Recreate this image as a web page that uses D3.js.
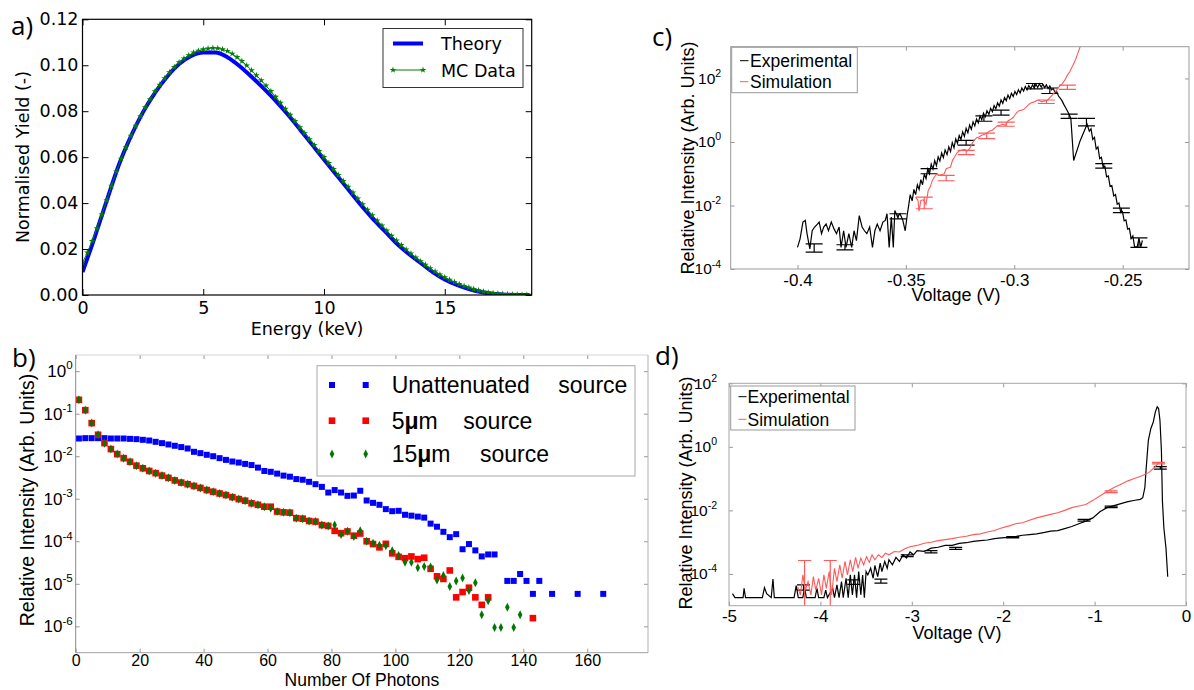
<!DOCTYPE html>
<html><head><meta charset="utf-8">
<script src="https://cdn.jsdelivr.net/npm/d3@7"></script>
<style>
body{margin:0;background:#fff;}
svg{display:block;}
</style></head><body>
<svg id="fig" width="1194" height="690"></svg>
<script>
// ================= DATA =================
// Panel a: normalised yield vs energy (keV)
const aTheoryEnergy = [0,0.5,1,1.5,2,2.5,3,3.5,4,4.5,5,5.5,6,6.5,7,7.5,8,8.5,9,9.5,10,10.5,11,11.5,12,12.5,13,13.5,14,14.5,15,15.5,16,16.5,17,17.5,18,18.5];
const aTheoryYield = [0.0100,0.0250,0.0410,0.0565,0.0690,0.0795,0.0880,0.0950,0.1005,0.1040,0.1055,0.1055,0.1035,0.0997,0.0950,0.0899,0.0845,0.0786,0.0722,0.0656,0.0590,0.0525,0.0460,0.0395,0.0335,0.0280,0.0225,0.0180,0.0140,0.0100,0.0068,0.0044,0.0026,0.0013,0.0005,0.0001,0.0000,0.0000];
const aMcEnergy = [0,0.2,0.4,0.6,0.8,1,1.2,1.4,1.6,1.8,2,2.2,2.4,2.6,2.8,3,3.2,3.4,3.6,3.8,4,4.2,4.4,4.6,4.8,5,5.2,5.4,5.6,5.8,6,6.2,6.4,6.6,6.8,7,7.2,7.4,7.6,7.8,8,8.2,8.4,8.6,8.8,9,9.2,9.4,9.6,9.8,10,10.2,10.4,10.6,10.8,11,11.2,11.4,11.6,11.8,12,12.2,12.4,12.6,12.8,13,13.2,13.4,13.6,13.8,14,14.2,14.4,14.6,14.8,15,15.2,15.4,15.6,15.8,16,16.2,16.4,16.6,16.8,17,17.2,17.4,17.6,17.8,18,18.2,18.4,18.6];
const aMcYield = [0.0140,0.0185,0.0235,0.0290,0.0350,0.0412,0.0475,0.0537,0.0593,0.0643,
0.0693,0.0736,0.0778,0.0817,0.0852,0.0886,0.0915,0.0943,0.0969,0.0992,
0.1013,0.1029,0.1043,0.1055,0.1063,0.1069,0.1073,0.1075,0.1074,0.1069,
0.1062,0.1050,0.1035,0.1018,0.0999,0.0978,0.0956,0.0934,0.0911,0.0887,
0.0862,0.0836,0.0810,0.0784,0.0757,0.0730,0.0704,0.0678,0.0652,0.0626,
0.0600,0.0574,0.0548,0.0522,0.0496,0.0471,0.0446,0.0420,0.0395,0.0371,
0.0347,0.0324,0.0302,0.0280,0.0258,0.0237,0.0217,0.0198,0.0180,0.0163,
0.0147,0.0131,0.0116,0.0102,0.0089,0.0077,0.0066,0.0056,0.0047,0.0039,
0.0032,0.0026,0.0020,0.0015,0.0011,0.0008,0.0006,0.0004,0.0003,0.0002,
0.0002,0.0001,0.0001,0.0001];
const aXTicks = [0,5,10,15];
const aYTicks = [0,0.02,0.04,0.06,0.08,0.10,0.12];
const aLegend = ["Theory","MC Data"];

// Panel b: relative intensity vs number of photons
const bUnattX = [1,3,5,7,9,11,13,15,17,19,21,23,25,27,29,31,33,35,37,39,41,43,45,47,49,51,53,55,57,59,61,63,65,67,69,71,73,75,77,79,81,83,85,87,89,91,93,95,97,99,101,103,105,107,109,111,113,115,117,119,121,123,125,127,129,131,135,137,139,141,143,145,149,157,165];
const bUnattY = [0.0261,0.0266,0.0266,0.0266,0.0266,0.0261,0.0261,0.0261,0.0256,0.0252,0.0243,0.0234,0.0218,0.0203,0.0189,0.0176,0.0164,0.0152,0.0127,0.0118,0.0108,0.0100,0.0090,0.0082,0.0075,0.0071,0.0066,0.0062,0.0054,0.0045,0.0043,0.0039,0.0035,0.0033,0.0029,0.0028,0.0025,0.0022,0.0019,0.0014,0.0016,0.0014,0.00117,0.00119,0.00154,0.00091,0.00080,0.00072,0.00057,0.00051,0.00052,0.00042,0.00040,0.00038,0.00036,0.00026,0.00022,0.000167,0.000125,0.000147,6.5e-5,8.6e-5,6.1e-5,4.4e-5,4.9e-5,4.9e-5,1.17e-5,1.17e-5,1.7e-5,1.17e-5,5.8e-6,1.17e-5,5.8e-6,5.8e-6,5.8e-6];
const b5umX = [1,3,5,7,9,11,13,15,17,19,21,23,25,27,29,31,33,35,37,39,41,43,45,47,49,51,53,55,57,59,61,63,65,67,69,71,73,75,77,79,81,83,85,87,89,91,93,95,97,99,101,103,105,107,109,111,113,115,117,119,121,123,125,127,129,143];
const b5umY = [0.212,0.121,0.060,0.0319,0.0203,0.0147,0.0112,0.0090,0.0074,0.0060,0.0052,0.0045,0.0040,0.0035,0.0031,0.0027,0.0024,0.0022,0.0020,0.0018,0.0016,0.00146,0.00133,0.00122,0.00109,0.00098,0.00090,0.00078,0.00072,0.00065,0.00065,0.00050,0.00048,0.00047,0.00035,0.00034,0.00030,0.00029,0.00024,0.00023,1.76e-4,1.55e-4,1.7e-4,1.35e-4,1.52e-4,1.0e-4,8.6e-5,7.2e-5,8.7e-5,5.2e-5,4.3e-5,4.0e-5,4.4e-5,3.8e-5,4.1e-5,2.25e-5,1.5e-5,1.3e-5,2.06e-5,4.8e-6,6.4e-6,8.1e-6,4.8e-6,3.2e-6,4.8e-6,1.56e-6];
const b15umX = [1,3,5,7,9,11,13,15,17,19,21,23,25,27,29,31,33,35,37,39,41,43,45,47,49,51,53,55,57,59,61,63,65,67,69,71,73,75,77,79,81,83,85,87,89,91,93,95,97,99,101,103,105,107,109,111,113,115,117,119,121,123,125,127,129,131,133,135,137,139];
const b15umY = [0.212,0.121,0.060,0.0319,0.0203,0.0147,0.0112,0.0090,0.0074,0.0060,0.0052,0.0045,0.0040,0.0035,0.0031,0.0027,0.0024,0.0022,0.0020,0.0018,0.0016,0.00146,0.00133,0.00122,0.00109,0.00098,0.00090,0.00078,0.00072,0.00065,0.00060,0.00050,0.00048,0.00047,0.00035,0.00034,0.00030,0.00029,0.00024,0.00023,2.4e-4,1.45e-4,1.72e-4,1.3e-4,1.76e-4,1.0e-4,9.0e-5,8.1e-5,7.8e-5,6.0e-5,4.6e-5,3.2e-5,3.2e-5,2.4e-5,2.56e-5,2.47e-5,1.23e-5,1.56e-5,8.7e-6,1.17e-5,1.37e-5,7.0e-6,1.06e-5,1.87e-6,4.0e-6,9.4e-7,9.4e-7,2.8e-6,9.4e-7,1.87e-6];
const bXTicks = [0,20,40,60,80,100,120,140,160];
const bYTicks = [1,1e-1,1e-2,1e-3,1e-4,1e-5,1e-6];

// Panel c: [voltage (V), relative intensity]
const cExp = [[-0.4000,4.8e-4],[-0.3988,8.9e-4],[-0.3975,3.0e-3],[-0.3964,3.4e-3],[-0.3956,1.3e-3],[-0.3943,4.3e-4],[-0.3932,1.6e-3],[-0.3921,2.1e-3],[-0.3908,2.6e-3],[-0.3900,3.0e-3],[-0.3889,1.3e-3],[-0.3879,2.1e-3],[-0.3868,2.6e-3],[-0.3857,1.6e-3],[-0.3844,3.0e-3],[-0.3831,1.8e-3],[-0.3820,1.3e-3],[-0.3808,2.1e-3],[-0.3799,4.8e-4],[-0.3787,1.6e-3],[-0.3776,4.8e-4],[-0.3763,1.3e-3],[-0.3750,4.8e-4],[-0.3739,1.6e-3],[-0.3728,7.8e-4],[-0.3715,4.8e-3],[-0.3702,2.1e-3],[-0.3691,1.6e-3],[-0.3680,1.3e-3],[-0.3667,2.1e-3],[-0.3654,4.8e-4],[-0.3643,1.6e-3],[-0.3632,2.6e-3],[-0.3619,1.6e-3],[-0.3606,3.0e-3],[-0.3595,3.4e-3],[-0.3587,5.5e-3],[-0.3577,4.8e-4],[-0.3567,4.3e-3],[-0.3558,4.8e-4],[-0.3551,7.0e-3],[-0.3538,4.3e-3],[-0.3527,5.5e-3],[-0.3514,3.4e-3],[-0.3503,1.6e-3],[-0.3493,5.5e-3],
[-0.3488,0.009],[-0.3480,0.022],[-0.3471,0.014],[-0.3463,0.032],[-0.3455,0.022],[-0.3447,0.045],[-0.3439,0.032],[-0.3431,0.065],[-0.3423,0.045],[-0.3415,0.10],[-0.3407,0.07],[-0.3399,0.14],[-0.3391,0.10],[-0.3383,0.2],[-0.3375,0.14],[-0.3367,0.26],[-0.3359,0.18],[-0.3351,0.34],[-0.3343,0.25],[-0.3335,0.45],[-0.3327,0.32],[-0.3319,0.56],[-0.3310,0.40],[-0.3302,0.7],[-0.3294,0.5],[-0.3286,0.95],[-0.3278,0.65],[-0.3270,1.25],[-0.3262,0.9],[-0.3254,1.6],[-0.3246,1.2],[-0.3238,2.1],[-0.3230,1.5],[-0.3222,2.7],[-0.3214,1.95],[-0.3206,3.4],[-0.3198,2.5],[-0.3190,4.3],[-0.3182,3.2],[-0.3174,5.3],[-0.3166,4.0],[-0.3158,6.6],[-0.3150,5.0],[-0.3142,8.0],[-0.3134,6.2],[-0.3126,9.6],[-0.3117,7.4],[-0.3109,11.5],[-0.3101,9.0],[-0.3093,14],[-0.3085,11],[-0.3077,17],[-0.3069,13.5],[-0.3061,21],[-0.3053,16.5],[-0.3045,25],[-0.3037,20],[-0.3029,30],[-0.3021,23],[-0.3013,34],[-0.3005,27],[-0.2997,39],[-0.2989,31],[-0.2981,44],[-0.2973,35],[-0.2965,50],[-0.2957,40],[-0.2949,56],[-0.2941,44],[-0.2933,60],[-0.2924,47],[-0.2916,63],[-0.2908,50],[-0.2900,66],[-0.2892,52],[-0.2884,68],[-0.2876,54],[-0.2868,66],[-0.2860,52],[-0.2852,63],[-0.2844,48],[-0.2836,58],[-0.2828,44],[-0.2820,48],[-0.2812,36],[-0.2804,38],[-0.2796,28],[-0.2788,24],[-0.2780,20],[-0.2771,15],[-0.2763,12],[-0.2747,7.5],[-0.2739,5.5],[-0.2726,0.26],[-0.2696,1.1],[-0.2664,3.6],[-0.2654,2.2],[-0.2646,2.6],[-0.2638,1.2],[-0.2630,1.4],[-0.2622,0.6],[-0.2614,0.7],[-0.2606,0.3],[-0.2598,0.33],[-0.2590,0.16],[-0.2582,0.17],[-0.2574,0.08],[-0.2566,0.085],[-0.2558,0.04],[-0.2550,0.042],[-0.2541,0.02],[-0.2533,0.022],[-0.2525,0.011],[-0.2517,0.012],[-0.2509,0.006],[-0.2501,0.0065],[-0.2493,0.0033],[-0.2485,0.0035],[-0.2477,0.0018],[-0.2469,0.0019],[-0.2461,0.0009],[-0.2453,0.0011],[-0.2445,0.0005],[-0.2433,0.0005],[-0.2425,0.0009],[-0.2416,0.0005],[-0.2409,0.0008]];
const cSim = [[-0.3455,0.0183],[-0.3444,0.0144],[-0.3439,0.0066],[-0.3431,0.0144],[-0.3420,0.0151],[-0.3407,0.0108],[-0.3397,0.0298],[-0.3388,0.038],[-0.3378,0.0616],[-0.3367,0.082],[-0.3356,0.10],[-0.3346,0.0886],[-0.3335,0.095],[-0.3323,0.10],[-0.3314,0.144],[-0.3302,0.155],[-0.3294,0.162],[-0.3285,0.264],[-0.3275,0.336],[-0.3265,0.45],[-0.3254,0.52],[-0.3243,0.546],[-0.3230,0.587],[-0.3217,0.52],[-0.3206,0.616],[-0.3195,0.886],[-0.3185,1.13],[-0.3174,1.37],[-0.3163,1.44],[-0.3150,1.62],[-0.3137,1.75],[-0.3126,1.92],[-0.3114,2.22],[-0.3101,2.34],[-0.3088,2.84],[-0.3077,3.28],[-0.3066,3.36],[-0.3053,3.61],[-0.3040,3.36],[-0.3029,4.6],[-0.3018,5.07],[-0.3005,5.87],[-0.2992,7.85],[-0.2981,9.5],[-0.2969,10],[-0.2957,10.5],[-0.2944,12.7],[-0.2932,15.5],[-0.2921,17.1],[-0.2908,18.3],[-0.2895,20.7],[-0.2884,20.7],[-0.2873,18.3],[-0.2860,19.7],[-0.2847,20.7],[-0.2836,25.1],[-0.2825,29.8],[-0.2812,37.9],[-0.2802,45],[-0.2791,57.3],[-0.2780,66.2],[-0.2767,88.5],[-0.2755,127],[-0.2744,162],[-0.2731,245],[-0.2718,380],[-0.2707,615],[-0.2696,1000],[-0.2686,1440]];
// error bars: [voltage, low, high]
const cExpErr = [[-0.3923,3.4e-4,6.2e-4],[-0.3781,4.0e-4,5.8e-4],[-0.3536,3.8e-3,5.5e-3],[-0.3393,0.10,0.144],[-0.3222,0.8,1.13],[-0.3140,4.5,6.6],[-0.3061,7.0,10],[-0.2907,47,69.5],[-0.2836,33.6,50],[-0.2747,5.5,7.5],[-0.2667,3.2,5.5],[-0.2587,0.15,0.207],[-0.2506,6e-3,8.2e-3],[-0.2425,4.8e-4,9.5e-4]];
const cSimErr = [[-0.3415,7.9e-3,0.0183],[-0.3314,0.06,0.0886],[-0.3222,0.40,0.546],[-0.3127,1.27,1.9],[-0.3037,3.13,4.2],[-0.2852,16.3,21],[-0.2755,45,61.5]];
const cXTicks = [-0.4,-0.35,-0.3,-0.25];
const cYTicks = [1e-4,1e-2,1,1e2];

// Panel d: [voltage (V), relative intensity]
const dExp = [[-4.962,2.4e-5],[-4.935,1.8e-5],[-4.846,1.8e-5],[-4.835,3.5e-5],[-4.819,1.8e-5],[-4.635,1.8e-5],[-4.612,3.7e-5],[-4.588,2.4e-5],[-4.538,1.8e-5],[-4.519,6.9e-5],[-4.504,1.8e-5],[-4.288,1.8e-5],[-4.265,4.3e-5],[-4.242,1.8e-5],[-4.192,1.8e-5],[-4.173,3.7e-5],[-4.154,1.8e-5],[-4.058,1.8e-5],[-4.038,3.5e-5],[-4.019,1.8e-5],[-3.962,1.8e-5],[-3.942,3.1e-5],[-3.923,1.8e-5],[-3.865,3.5e-5],[-3.846,1.8e-5],[-3.819,4.5e-5],[-3.796,1.8e-5],[-3.769,5.7e-5],[-3.750,1.8e-5],[-3.719,7.3e-5],[-3.696,1.8e-5],[-3.673,9.3e-5],[-3.650,2.2e-5],[-3.627,9.3e-5],[-3.604,1.8e-5],[-3.581,1.19e-4],[-3.558,2.2e-5],[-3.538,9.3e-5],[-3.519,1.8e-5],[-3.500,1.19e-4],[-3.481,9.3e-5],[-3.450,1.51e-4],[-3.423,7.3e-5],[-3.404,1.84e-4],[-3.373,8.2e-5],[-3.346,2.18e-4],[-3.327,1.19e-4],[-3.296,2.47e-4],[-3.269,1.51e-4],[-3.250,2.78e-4],[-3.212,1.93e-4],[-3.173,3.3e-4],[-3.135,2.47e-4],[-3.096,4.0e-4],[-3.058,3.14e-4],[-3.019,4.9e-4],[-2.981,4.0e-4],[-2.942,5.4e-4],[-2.865,5.1e-4],[-2.788,6.5e-4],[-2.712,6.9e-4],[-2.635,7.9e-4],[-2.558,7.9e-4],[-2.481,9.2e-4],[-2.404,9.6e-4],[-2.327,1.06e-3],[-2.250,1.12e-3],[-2.173,1.17e-3],[-2.096,1.29e-3],[-2.019,1.36e-3],[-1.942,1.42e-3],[-1.865,1.5e-3],[-1.788,1.65e-3],[-1.712,1.73e-3],[-1.635,1.82e-3],[-1.558,2.0e-3],[-1.481,2.21e-3],[-1.404,2.32e-3],[-1.327,2.68e-3],[-1.250,3.1e-3],[-1.173,3.8e-3],[-1.096,4.6e-3],[-1.019,5.8e-3],[-0.942,9.1e-3],[-0.865,0.0122],[-0.788,0.0141],[-0.712,0.0163],[-0.635,0.0188],[-0.558,0.0208],[-0.500,0.0223],[-0.473,0.0252],[-0.450,0.0525],[-0.435,0.226],[-0.412,1.59],[-0.385,3.72],[-0.358,6.07],[-0.335,12.6],[-0.315,18.2],[-0.300,16.1],[-0.285,6.86],[-0.269,0.766],[-0.258,0.0198],[-0.242,2.8e-3],[-0.219,6.5e-4],[-0.200,8.2e-5]];
const dSim = [[-4.250,4.0e-5],[-4.219,2.2e-5],[-4.192,9.3e-5],[-4.165,3.1e-5],[-4.135,5.7e-5],[-4.104,2.2e-5],[-4.077,8.2e-5],[-4.050,3.1e-5],[-4.019,7.3e-5],[-3.988,2.2e-5],[-3.962,9.3e-5],[-3.935,3.5e-5],[-3.904,1.19e-4],[-3.877,2.2e-5],[-3.846,1.51e-4],[-3.819,5.7e-5],[-3.788,1.93e-4],[-3.762,7.3e-5],[-3.731,2.47e-4],[-3.704,9.3e-5],[-3.673,2.78e-4],[-3.646,1.19e-4],[-3.615,3.3e-4],[-3.588,1.51e-4],[-3.558,3.14e-4],[-3.527,1.93e-4],[-3.496,3.5e-4],[-3.465,2.3e-4],[-3.435,4.0e-4],[-3.404,2.78e-4],[-3.365,4.0e-4],[-3.327,3.3e-4],[-3.288,4.5e-4],[-3.250,4.0e-4],[-3.192,5.1e-4],[-3.135,4.9e-4],[-3.077,6.2e-4],[-3.019,7.2e-4],[-2.942,7.9e-4],[-2.865,9.2e-4],[-2.788,9.9e-4],[-2.712,1.12e-3],[-2.635,1.2e-3],[-2.558,1.29e-3],[-2.481,1.42e-3],[-2.404,1.53e-3],[-2.327,1.73e-3],[-2.250,1.82e-3],[-2.173,2.1e-3],[-2.096,2.32e-3],[-2.019,2.8e-3],[-1.942,3.2e-3],[-1.865,3.8e-3],[-1.788,4.1e-3],[-1.712,4.9e-3],[-1.635,5.8e-3],[-1.558,6.6e-3],[-1.481,7.5e-3],[-1.404,8.4e-3],[-1.327,0.0100],[-1.250,0.0122],[-1.173,0.0137],[-1.096,0.0154],[-1.019,0.0207],[-0.942,0.0284],[-0.865,0.0393],[-0.788,0.0525],[-0.712,0.0668],[-0.635,0.0849],[-0.558,0.103],[-0.481,0.123],[-0.404,0.157],[-0.346,0.226],[-0.308,0.29]];
const dExpErr = [[-4.185,3.1e-5,4.5e-5],[-3.635,4.7e-5,6.5e-5],[-3.338,5.1e-5,6.9e-5],[-3.05,3.5e-4,4.0e-4],[-2.79,4.6e-4,5.4e-4],[-2.52,5.9e-4,6.9e-4],[-1.896,1.36e-3,1.5e-3],[-1.115,4.6e-3,5.2e-3],[-0.819,0.0122,0.0137],[-0.281,0.2,0.24]];
const dSimErr = [[-4.173,8e-6,2.65e-4],[-3.892,8e-6,2.65e-4],[-0.819,0.036,0.041],[-0.30,0.29,0.326]];
const dXTicks = [-5,-4,-3,-2,-1,0];
const dYTicks = [1e-4,1e-2,1,1e2];
const cdLegend = ["Experimental","Simulation"];

// ================= DRAWING =================
const svg = d3.select('#fig');
const SANS = '"Liberation Sans", Arial, sans-serif';
const DV = '"DejaVu Sans", sans-serif';
const defs = svg.append('defs');
function clip(id, box){
  defs.append('clipPath').attr('id', id).append('rect')
    .attr('x', box.l).attr('y', box.t).attr('width', box.r - box.l).attr('height', box.b - box.t);
  return 'url(#' + id + ')';
}
function cleanAxis(g, color, font, size){
  g.select('.domain').remove();
  g.attr('font-family', font).attr('font-size', size);
  g.selectAll('.tick line').attr('stroke', color);
  g.selectAll('.tick text').attr('fill', '#000');
}
function supLabels(g, size){
  g.selectAll('.tick text').each(function(d){
    const e = Math.round(Math.log10(d));
    const t = d3.select(this);
    t.text(null);
    t.append('tspan').text('10');
    t.append('tspan').attr('dy', -size * 0.45).attr('font-size', size * 0.68).text(String(e));
  });
}
function errBars(g, data, xs, ys, color, hw){
  g.selectAll(null).data(data).join('path')
    .attr('d', d => { const x = xs(d[0]), y1 = ys(d[1]), y2 = ys(d[2]);
      return `M${x},${y1}V${y2}M${x-hw},${y1}H${x+hw}M${x-hw},${y2}H${x+hw}`; })
    .attr('stroke', color).attr('stroke-width', 1.2).attr('fill', 'none');
}

// ---------- Panel a ----------
{
  const A = {l:82.5, r:531.7, t:19.3, b:295};
  const x = d3.scaleLinear().domain([0, 18.6]).range([A.l, A.r]);
  const y = d3.scaleLinear().domain([0, 0.12]).range([A.b, A.t]);
  const g = svg.append('g');
  const pg = g.append('g').attr('clip-path', clip('clipA', {l:A.l, r:A.r, t:A.t-3, b:A.b}));
  pg.append('path').datum(aTheoryEnergy.map((e,i)=>[e, aTheoryYield[i]]))
    .attr('d', d3.line().x(d=>x(d[0])).y(d=>y(d[1])).curve(d3.curveMonotoneX))
    .attr('fill','none').attr('stroke','#0000ff').attr('stroke-width',4);
  const mc = aMcEnergy.map((e,i)=>[e, aMcYield[i]]);
  pg.append('path').datum(mc)
    .attr('d', d3.line().x(d=>x(d[0])).y(d=>y(d[1])))
    .attr('fill','none').attr('stroke','#008000').attr('stroke-width',1);
  const star = d3.symbol(d3.symbolStar, 14)();
  pg.selectAll('.st').data(mc).join('path').attr('d', star)
    .attr('transform', d=>`translate(${x(d[0])},${y(d[1])})`).attr('fill','#008000');
  // axes
  const gx = g.append('g').attr('transform',`translate(0,${A.b})`)
    .call(d3.axisBottom(x).tickValues(aXTicks).tickSize(-6).tickPadding(7).tickFormat(d3.format('d')));
  cleanAxis(gx, '#000', DV, 17.5);
  const gxt = g.append('g').attr('transform',`translate(0,${A.t})`)
    .call(d3.axisTop(x).tickValues(aXTicks).tickSize(-6).tickFormat(''));
  cleanAxis(gxt, '#000', DV, 17.5);
  const gy = g.append('g').attr('transform',`translate(${A.l},0)`)
    .call(d3.axisLeft(y).tickValues(aYTicks).tickSize(-6).tickPadding(4).tickFormat(d3.format('.2f')));
  cleanAxis(gy, '#000', DV, 17.5);
  const gyr = g.append('g').attr('transform',`translate(${A.r},0)`)
    .call(d3.axisRight(y).tickValues(aYTicks).tickSize(-6).tickFormat(''));
  cleanAxis(gyr, '#000', DV, 17.5);
  g.append('rect').attr('x',A.l).attr('y',A.t).attr('width',A.r-A.l).attr('height',A.b-A.t)
    .attr('fill','none').attr('stroke','#000').attr('stroke-width',1.2);
  g.append('text').attr('x',(A.l+A.r)/2).attr('y',335).attr('text-anchor','middle')
    .attr('font-family',DV).attr('font-size',17.5).text('Energy (keV)');
  g.append('text').attr('transform',`translate(28.5,157) rotate(-90)`).attr('text-anchor','middle')
    .attr('font-family',DV).attr('font-size',17.5).text('Normalised Yield (-)');
  // legend
  const lg = g.append('g');
  lg.append('rect').attr('x',383).attr('y',28.5).attr('width',140).attr('height',59)
    .attr('fill','#fff').attr('stroke','#333').attr('stroke-width',1);
  lg.append('line').attr('x1',393).attr('x2',423).attr('y1',43.5).attr('y2',43.5).attr('stroke','#0000ff').attr('stroke-width',4);
  lg.append('line').attr('x1',393).attr('x2',423).attr('y1',70).attr('y2',70).attr('stroke','#008000').attr('stroke-width',1);
  [393,423].forEach(px => lg.append('path').attr('d', d3.symbol(d3.symbolStar, 14)()).attr('transform',`translate(${px},70)`).attr('fill','#008000'));
  lg.selectAll('text').data(aLegend).join('text').attr('x',441).attr('y',(d,i)=>i?76.5:49.5)
    .attr('font-family',DV).attr('font-size',17.5).text(d=>d);
  g.append('text').attr('x',11).attr('y',35).attr('font-family','"Open Sans", sans-serif').attr('font-size',26).text('a)');
}

// ---------- Panel b ----------
{
  const B = {l:75.7, r:648, t:355, b:652.7};
  const x = d3.scaleLinear().domain([0, 179]).range([B.l, B.r]);
  const y = d3.scaleLog().domain([Math.pow(10,-6.62), Math.pow(10,0.38)]).range([B.b, B.t]);
  const g = svg.append('g');
  const pg = g.append('g').attr('clip-path', clip('clipB', B));
  pg.selectAll('.u').data(bUnattX.map((v,i)=>[v,bUnattY[i]])).join('rect')
    .attr('x',d=>x(d[0])-3).attr('y',d=>y(d[1])-3).attr('width',6).attr('height',6).attr('fill','#0000ff');
  pg.selectAll('.r').data(b5umX.map((v,i)=>[v,b5umY[i]])).join('rect')
    .attr('x',d=>x(d[0])-3.3).attr('y',d=>y(d[1])-3.3).attr('width',6.6).attr('height',6.6).attr('fill','#ff0000');
  const dia = 'M0,-4.5L2.3,0L0,4.5L-2.3,0Z';
  pg.selectAll('.gd').data(b15umX.map((v,i)=>[v,b15umY[i]])).join('path')
    .attr('d',dia).attr('transform',d=>`translate(${x(d[0])},${y(d[1])})`).attr('fill','#007800');
  // axes
  const gx = g.append('g').attr('transform',`translate(0,${B.b})`)
    .call(d3.axisBottom(x).tickValues(bXTicks).tickSize(-4).tickPadding(2).tickFormat(d3.format('d')));
  cleanAxis(gx, '#999', SANS, 16);
  const gxt = g.append('g').attr('transform',`translate(0,${B.t})`)
    .call(d3.axisTop(x).tickValues(bXTicks).tickSize(-4).tickFormat(''));
  cleanAxis(gxt, '#999', SANS, 16);
  const gy = g.append('g').attr('transform',`translate(${B.l},0)`)
    .call(d3.axisLeft(y).tickValues(bYTicks).tickSize(-4).tickPadding(3));
  cleanAxis(gy, '#999', SANS, 17);
  supLabels(gy, 17);
  const gyr = g.append('g').attr('transform',`translate(${B.r},0)`)
    .call(d3.axisRight(y).tickValues(bYTicks).tickSize(-4).tickFormat(''));
  cleanAxis(gyr, '#999', SANS, 17);
  g.append('line').attr('x1',B.l).attr('x2',B.r).attr('y1',B.t).attr('y2',B.t).attr('stroke','#d4d4d4');
  g.append('line').attr('x1',B.r).attr('x2',B.r).attr('y1',B.t).attr('y2',B.b).attr('stroke','#b0b0b0');
  g.append('line').attr('x1',B.l).attr('x2',B.r).attr('y1',B.b).attr('y2',B.b).attr('stroke','#a0a0a0');
  g.append('line').attr('x1',B.l).attr('x2',B.l).attr('y1',B.t).attr('y2',B.b).attr('stroke','#8a8a8a');
  g.append('text').attr('x',(B.l+B.r)/2).attr('y',685.5).attr('text-anchor','middle')
    .attr('font-family',SANS).attr('font-size',17.5).text('Number Of Photons');
  g.append('text').attr('transform',`translate(34,500) rotate(-90)`).attr('text-anchor','middle')
    .attr('font-family',SANS).attr('font-size',19.5).text('Relative Intensity (Arb. Units)');
  // legend
  const lg = g.append('g').attr('font-family',SANS).attr('font-size',23);
  lg.append('rect').attr('x',317).attr('y',365.7).attr('width',318).attr('height',110.3)
    .attr('fill','#fff').attr('stroke','#a8a8a8');
  const rows = [385, 420.7, 454];
  [332, 365.7].forEach(px => {
    lg.append('rect').attr('x',px-3).attr('y',rows[0]-3).attr('width',6).attr('height',6).attr('fill','#0000ff');
    lg.append('rect').attr('x',px-3.3).attr('y',rows[1]-3.3).attr('width',6.6).attr('height',6.6).attr('fill','#ff0000');
    lg.append('path').attr('d',dia).attr('transform',`translate(${px},${rows[2]})`).attr('fill','#007800');
  });
  const t1 = lg.append('text').attr('y',rows[0]+8.2);
  t1.append('tspan').attr('x',391.7).text('Unattenuated ');
  t1.append('tspan').attr('x',558.3).text('source');
  const t2 = lg.append('text').attr('y',rows[1]+8.2);
  t2.append('tspan').attr('x',391.7).text('5');
  t2.append('tspan').attr('font-weight','bold').text('μ');
  t2.append('tspan').text('m ');
  t2.append('tspan').attr('x',463.3).text('source');
  const t3 = lg.append('text').attr('y',rows[2]+8.2);
  t3.append('tspan').attr('x',391.7).text('15');
  t3.append('tspan').attr('font-weight','bold').text('μ');
  t3.append('tspan').text('m ');
  t3.append('tspan').attr('x',480).text('source');
  g.append('text').attr('x',12).attr('y',367).attr('font-family','"Open Sans", sans-serif').attr('font-size',26).text('b)');
}

// ---------- Panels c and d (shared style) ----------
function voltagePanel(P, xDomain, yDomain, xTicks, yTicks, exp, sim, expErr, simErr, opt){
  const x = d3.scaleLinear().domain(xDomain).range([P.l, P.r]);
  const y = d3.scaleLog().domain(yDomain).range([P.b, P.t]);
  const g = svg.append('g');
  const pg = g.append('g').attr('clip-path', clip(opt.id, P));
  const line = d3.line().x(d=>x(d[0])).y(d=>y(d[1]));
  pg.append('path').datum(exp).attr('d', line).attr('fill','none').attr('stroke','#000').attr('stroke-width',1.2);
  errBars(pg, expErr, x, y, '#000', opt.cap);
  pg.append('path').datum(sim).attr('d', line).attr('fill','none').attr('stroke','#ff5a5a').attr('stroke-width',1.1);
  errBars(pg, simErr, x, y, '#ff5a5a', opt.cap);
  const gx = g.append('g').attr('transform',`translate(0,${P.b})`)
    .call(d3.axisBottom(x).tickValues(xTicks).tickSize(-4).tickPadding(opt.xpad).tickFormat(d=>String(d)));
  cleanAxis(gx, '#999', SANS, 17);
  const gxt = g.append('g').attr('transform',`translate(0,${P.t})`)
    .call(d3.axisTop(x).tickValues(xTicks).tickSize(-4).tickFormat(''));
  cleanAxis(gxt, '#999', SANS, 17);
  const gy = g.append('g').attr('transform',`translate(${P.l},0)`)
    .call(d3.axisLeft(y).tickValues(yTicks).tickSize(-4).tickPadding(opt.ypad));
  cleanAxis(gy, '#999', SANS, 15.5);
  supLabels(gy, 15.5);
  const gyr = g.append('g').attr('transform',`translate(${P.r},0)`)
    .call(d3.axisRight(y).tickValues(yTicks).tickSize(-4).tickFormat(''));
  cleanAxis(gyr, '#999', SANS, 15.5);
  g.append('rect').attr('x',P.l).attr('y',P.t).attr('width',P.r-P.l).attr('height',P.b-P.t)
    .attr('fill','none').attr('stroke', opt.frame);
  g.append('text').attr('x',opt.xlx).attr('y',opt.xly).attr('text-anchor','middle')
    .attr('font-family',SANS).attr('font-size',18).text('Voltage (V)');
  g.append('text').attr('transform',`translate(${opt.ylx},${opt.yly}) rotate(-90)`).attr('text-anchor','middle')
    .attr('font-family',SANS).attr('font-size',18).text('Relative Intensity (Arb. Units)');
  const L = opt.leg;
  const lg = g.append('g').attr('font-family',SANS).attr('font-size',17.5);
  lg.append('rect').attr('x',L.x).attr('y',L.y).attr('width',L.w).attr('height',L.h)
    .attr('fill','#fff').attr('stroke','#999');
  lg.append('line').attr('x1',L.lx1).attr('x2',L.lx2).attr('y1',L.r1).attr('y2',L.r1).attr('stroke','#000');
  lg.append('line').attr('x1',L.lx1).attr('x2',L.lx2).attr('y1',L.r2).attr('y2',L.r2).attr('stroke','#ff5a5a');
  lg.selectAll('text').data(cdLegend).join('text').attr('x',L.tx).attr('y',(d,i)=>(i?L.r2:L.r1)+6.2).text(d=>d);
  g.append('text').attr('x',opt.lab[0]).attr('y',opt.lab[1]).attr('font-family','"Open Sans", sans-serif').attr('font-size',26).text(opt.letter);
}

voltagePanel({l:730.7, r:1189, t:46.7, b:269}, [-0.4308,-0.2194], [1e-4,1e3], cXTicks, cYTicks,
  cExp, cSim, cExpErr, cSimErr,
  {id:'clipC', cap:8.5, xpad:5, ypad:9.5, frame:'#9a9a9a', xlx:956, xly:301, ylx:694, yly:158,
   leg:{x:731.7, y:47.3, w:125.6, h:45.4, lx1:740, lx2:748.5, r1:60.7, r2:81.7, tx:750},
   lab:[652, 46], letter:'c)'});

voltagePanel({l:729, r:1186, t:383.3, b:605.7}, [-5,0], [1e-5,1e2], dXTicks, dYTicks,
  dExp, dSim, dExpErr, dSimErr,
  {id:'clipD', cap:6.5, xpad:4.2, ypad:12, frame:'#a5a5a5', xlx:957, xly:639, ylx:692, yly:493,
   leg:{x:730.7, y:386, w:124.3, h:44, lx1:738.5, lx2:746.5, r1:396.7, r2:419.3, tx:747.5},
   lab:[655, 365], letter:'d)'});
</script>
</body></html>
